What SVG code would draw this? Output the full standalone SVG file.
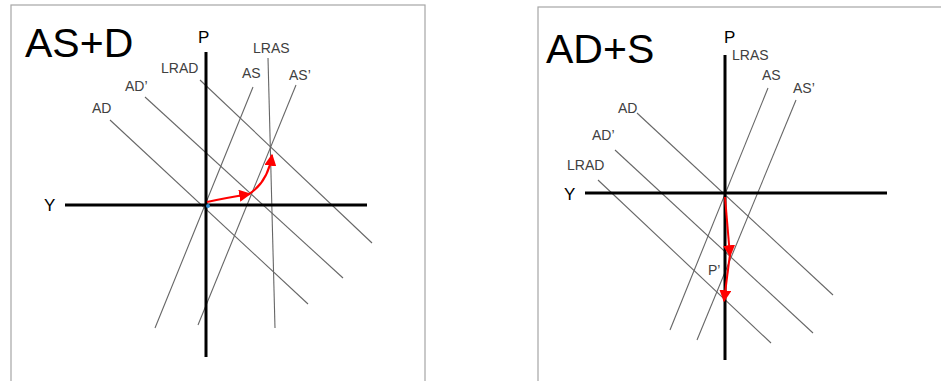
<svg xmlns="http://www.w3.org/2000/svg" width="941" height="381" viewBox="0 0 941 381">
<style>
.frame{fill:#fff;stroke:#a6a6a6;stroke-width:1.2}
.axis{stroke:#000;stroke-width:3;fill:none}
.curve{stroke:#666;stroke-width:1.1;fill:none}
.arrow{stroke:#ff0000;stroke-width:2;fill:none;marker-end:url(#ah)}
.title{font-family:"Liberation Sans",Arial,sans-serif;font-size:41px;fill:#000}
.lab{font-family:"Liberation Sans",Arial,sans-serif;font-size:14px;fill:#404040}
.axl{font-family:"Liberation Sans",Arial,sans-serif;font-size:17px;fill:#000}
</style>
<defs>
<marker id="ah" viewBox="0 0 10 10" refX="9" refY="5" markerWidth="6" markerHeight="6" orient="auto" markerUnits="strokeWidth">
<path d="M0,0 L10,5 L0,10 z" fill="#ff0000"/>
</marker>
</defs>
<rect width="941" height="381" fill="#fff"/>
<g id="panel-left">
<rect class="frame" x="11" y="5" width="414" height="390"/>
<text class="title" x="25" y="57">AS+D</text>
</g>
<g id="panel-right">
<rect class="frame" x="538" y="7" width="410" height="390"/>
<text class="title" x="546" y="63">AD+S</text>
</g>
<g id="connectors">
<!-- left curves -->
<line class="curve" x1="200" y1="80" x2="372" y2="243"/>
<line class="curve" x1="145" y1="97" x2="343" y2="278"/>
<line class="curve" x1="110" y1="120" x2="308" y2="304"/>
<line class="curve" x1="253" y1="87" x2="155" y2="328"/>
<line class="curve" x1="296" y1="85" x2="198" y2="325"/>
<line class="curve" x1="268" y1="58" x2="275" y2="328"/>
<line class="axis" x1="206" y1="52" x2="206" y2="357"/>
<line class="axis" x1="65" y1="205" x2="367" y2="205"/>
<circle cx="208" cy="206" r="2" fill="#2e8bd0"/>
<path class="arrow" d="M207,202 Q225,198 250,194"/>
<path class="arrow" d="M249,194 Q268,182 272,155"/>
<!-- right curves -->
<line class="curve" x1="768" y1="88" x2="670" y2="330"/>
<line class="curve" x1="796" y1="100" x2="697" y2="340"/>
<line class="curve" x1="637" y1="113" x2="833" y2="295"/>
<line class="curve" x1="615" y1="150" x2="813" y2="333"/>
<line class="curve" x1="598" y1="180" x2="771" y2="343"/>
<line class="axis" x1="725" y1="55" x2="725" y2="360"/>
<line class="axis" x1="585" y1="193" x2="887" y2="193"/>
<path class="arrow" d="M725,197 L730,256"/>
<path class="arrow" d="M730,254 L724,301"/>
</g>
<g id="labels">
<text class="axl" x="198" y="43">P</text>
<text class="axl" x="44" y="211">Y</text>
<text class="lab" x="161" y="73">LRAD</text>
<text class="lab" x="125" y="91">AD’</text>
<text class="lab" x="92" y="113">AD</text>
<text class="lab" x="242" y="78">AS</text>
<text class="lab" x="289" y="80">AS’</text>
<text class="lab" x="253" y="53">LRAS</text>
<text class="axl" x="724" y="43">P</text>
<text class="axl" x="564" y="200">Y</text>
<text class="lab" x="732" y="60">LRAS</text>
<text class="lab" x="762" y="80">AS</text>
<text class="lab" x="793" y="93">AS’</text>
<text class="lab" x="618" y="113">AD</text>
<text class="lab" x="592" y="140">AD’</text>
<text class="lab" x="567" y="170">LRAD</text>
<text class="lab" x="708" y="275">P’</text>
</g>
</svg>
